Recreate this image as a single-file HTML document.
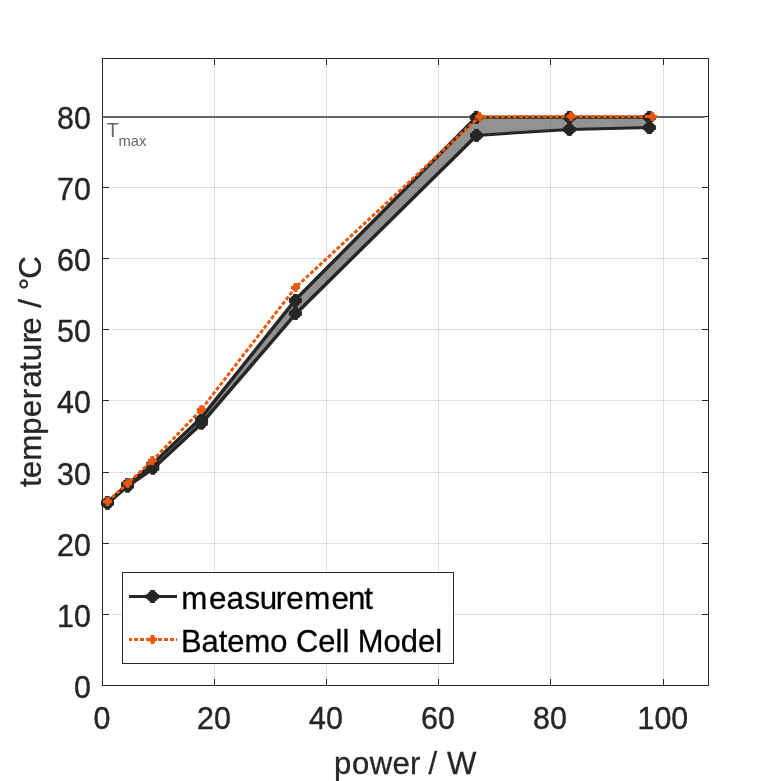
<!DOCTYPE html>
<html lang="en"><head><meta charset="utf-8"><title>temperature vs power</title>
<style>html,body{margin:0;padding:0;background:#fff;}body{width:781px;height:781px;overflow:hidden;}svg{display:block;}text{font-family:"Liberation Sans",sans-serif;}</style></head><body>
<svg width="781" height="781" viewBox="0 0 781 781">
<rect x="0" y="0" width="781" height="781" fill="#ffffff"/>
<g stroke="#262626" stroke-opacity="0.15" stroke-width="1" shape-rendering="crispEdges">
<line x1="214.5" y1="58.5" x2="214.5" y2="685.5"/>
<line x1="326.5" y1="58.5" x2="326.5" y2="685.5"/>
<line x1="438.5" y1="58.5" x2="438.5" y2="685.5"/>
<line x1="550.5" y1="58.5" x2="550.5" y2="685.5"/>
<line x1="663.5" y1="58.5" x2="663.5" y2="685.5"/>
<line x1="102.5" y1="614.5" x2="708.5" y2="614.5"/>
<line x1="102.5" y1="543.5" x2="708.5" y2="543.5"/>
<line x1="102.5" y1="472.5" x2="708.5" y2="472.5"/>
<line x1="102.5" y1="400.5" x2="708.5" y2="400.5"/>
<line x1="102.5" y1="329.5" x2="708.5" y2="329.5"/>
<line x1="102.5" y1="258.5" x2="708.5" y2="258.5"/>
<line x1="102.5" y1="187.5" x2="708.5" y2="187.5"/>
<line x1="102.5" y1="116.5" x2="708.5" y2="116.5"/>
</g>
<g stroke="#262626" stroke-width="1" fill="none" shape-rendering="crispEdges">
<rect x="102.5" y="58.5" width="606.0" height="627.0"/>
<line x1="102.5" y1="685.5" x2="102.5" y2="679.0"/><line x1="102.5" y1="58.5" x2="102.5" y2="65.0"/>
<line x1="214.5" y1="685.5" x2="214.5" y2="679.0"/><line x1="214.5" y1="58.5" x2="214.5" y2="65.0"/>
<line x1="326.5" y1="685.5" x2="326.5" y2="679.0"/><line x1="326.5" y1="58.5" x2="326.5" y2="65.0"/>
<line x1="438.5" y1="685.5" x2="438.5" y2="679.0"/><line x1="438.5" y1="58.5" x2="438.5" y2="65.0"/>
<line x1="550.5" y1="685.5" x2="550.5" y2="679.0"/><line x1="550.5" y1="58.5" x2="550.5" y2="65.0"/>
<line x1="663.5" y1="685.5" x2="663.5" y2="679.0"/><line x1="663.5" y1="58.5" x2="663.5" y2="65.0"/>
<line x1="102.5" y1="685.5" x2="109.0" y2="685.5"/><line x1="708.5" y1="685.5" x2="702.0" y2="685.5"/>
<line x1="102.5" y1="614.5" x2="109.0" y2="614.5"/><line x1="708.5" y1="614.5" x2="702.0" y2="614.5"/>
<line x1="102.5" y1="543.5" x2="109.0" y2="543.5"/><line x1="708.5" y1="543.5" x2="702.0" y2="543.5"/>
<line x1="102.5" y1="472.5" x2="109.0" y2="472.5"/><line x1="708.5" y1="472.5" x2="702.0" y2="472.5"/>
<line x1="102.5" y1="400.5" x2="109.0" y2="400.5"/><line x1="708.5" y1="400.5" x2="702.0" y2="400.5"/>
<line x1="102.5" y1="329.5" x2="109.0" y2="329.5"/><line x1="708.5" y1="329.5" x2="702.0" y2="329.5"/>
<line x1="102.5" y1="258.5" x2="109.0" y2="258.5"/><line x1="708.5" y1="258.5" x2="702.0" y2="258.5"/>
<line x1="102.5" y1="187.5" x2="109.0" y2="187.5"/><line x1="708.5" y1="187.5" x2="702.0" y2="187.5"/>
<line x1="102.5" y1="116.5" x2="109.0" y2="116.5"/><line x1="708.5" y1="116.5" x2="702.0" y2="116.5"/>
</g>
<line x1="102.5" y1="116.9" x2="704.8" y2="116.9" stroke="#666666" stroke-width="2"/>
<text x="106.7" y="136.7" font-size="19.7" fill="#666666">T<tspan dx="-0.3" dy="9" font-size="14.8">max</tspan></text>
<polygon points="107.5,502.6 127.5,484.6 152.8,463.8 201.6,417.4 295.4,299.8 476.3,117.3 569.4,117.3 649.4,117.3 649.4,127.6 569.4,129.4 476.5,135.4 295.4,314.2 201.4,423.6 152.8,468.8 127.5,486.2 107.5,503.3" fill="#262626" fill-opacity="0.5"/>
<polyline points="107.5,502.6 127.5,484.6 152.8,463.8 201.6,417.4 295.4,299.8 476.3,117.3" fill="none" stroke="#262626" stroke-width="3.5" stroke-linejoin="round"/>
<polyline points="476.3,117.3 569.4,117.3 649.4,117.3" fill="none" stroke="#262626" stroke-width="3" stroke-linejoin="round"/>
<g fill="#262626"><circle cx="107.5" cy="502.6" r="5.7"/><rect x="105.2" y="496.1" width="4.6" height="13"/><rect x="101.0" y="500.3" width="13" height="4.6"/><circle cx="127.5" cy="484.6" r="5.7"/><rect x="125.2" y="478.1" width="4.6" height="13"/><rect x="121.0" y="482.3" width="13" height="4.6"/><circle cx="152.8" cy="464.2" r="5.7"/><rect x="150.5" y="457.7" width="4.6" height="13"/><rect x="146.3" y="461.9" width="13" height="4.6"/><circle cx="201.6" cy="419.6" r="5.7"/><rect x="199.29999999999998" y="413.1" width="4.6" height="13"/><rect x="195.1" y="417.3" width="13" height="4.6"/><circle cx="295.4" cy="300.5" r="5.7"/><rect x="293.09999999999997" y="294.0" width="4.6" height="13"/><rect x="288.9" y="298.2" width="13" height="4.6"/><circle cx="476.3" cy="117.4" r="5.7"/><rect x="474.0" y="110.9" width="4.6" height="13"/><rect x="469.8" y="115.10000000000001" width="13" height="4.6"/><circle cx="569.4" cy="117.4" r="5.7"/><rect x="567.1" y="110.9" width="4.6" height="13"/><rect x="562.9" y="115.10000000000001" width="13" height="4.6"/><circle cx="649.4" cy="117.4" r="5.7"/><rect x="647.1" y="110.9" width="4.6" height="13"/><rect x="642.9" y="115.10000000000001" width="13" height="4.6"/></g>
<polyline points="107.5,503.3 127.5,486.2 152.8,468.8 201.4,423.6 295.4,314.2 476.5,135.4" fill="none" stroke="#262626" stroke-width="3.5" stroke-linejoin="round"/>
<polyline points="476.5,135.4 569.4,129.4 649.4,127.6" fill="none" stroke="#262626" stroke-width="3" stroke-linejoin="round"/>
<g fill="#262626"><circle cx="107.5" cy="503.3" r="5.7"/><rect x="105.2" y="496.8" width="4.6" height="13"/><rect x="101.0" y="501.0" width="13" height="4.6"/><circle cx="127.5" cy="486.2" r="5.7"/><rect x="125.2" y="479.7" width="4.6" height="13"/><rect x="121.0" y="483.9" width="13" height="4.6"/><circle cx="152.8" cy="468.25" r="5.7"/><rect x="150.5" y="461.75" width="4.6" height="13"/><rect x="146.3" y="465.95" width="13" height="4.6"/><circle cx="201.4" cy="423.2" r="5.7"/><rect x="199.1" y="416.7" width="4.6" height="13"/><rect x="194.9" y="420.9" width="13" height="4.6"/><circle cx="295.4" cy="313.5" r="5.7"/><rect x="293.09999999999997" y="307.0" width="4.6" height="13"/><rect x="288.9" y="311.2" width="13" height="4.6"/><circle cx="476.5" cy="135.4" r="5.7"/><rect x="474.2" y="128.9" width="4.6" height="13"/><rect x="470.0" y="133.1" width="13" height="4.6"/><circle cx="569.4" cy="129.4" r="5.7"/><rect x="567.1" y="122.9" width="4.6" height="13"/><rect x="562.9" y="127.10000000000001" width="13" height="4.6"/><circle cx="649.4" cy="127.6" r="5.7"/><rect x="647.1" y="121.1" width="4.6" height="13"/><rect x="642.9" y="125.3" width="13" height="4.6"/></g>
<polyline points="107.5,501.5 127.6,483.4 152.4,460.6 201.2,409.7 295.5,287.5 479.5,116.7 571.0,116.5 652.5,116.6" fill="none" stroke="#e8590c" stroke-width="3" stroke-dasharray="4 2" stroke-linejoin="round"/>
<g fill="#e8590c"><circle cx="107.5" cy="501.5" r="3.2"/><rect x="105.7" y="497.0" width="3.6" height="9"/><rect x="103.0" y="499.9" width="9" height="3.2"/><circle cx="127.6" cy="483.4" r="3.2"/><rect x="125.8" y="478.9" width="3.6" height="9"/><rect x="123.1" y="481.79999999999995" width="9" height="3.2"/><circle cx="152.4" cy="460.6" r="3.2"/><rect x="150.6" y="456.1" width="3.6" height="9"/><rect x="147.9" y="459.0" width="9" height="3.2"/><circle cx="201.2" cy="409.7" r="3.2"/><rect x="199.39999999999998" y="405.2" width="3.6" height="9"/><rect x="196.7" y="408.09999999999997" width="9" height="3.2"/><circle cx="295.5" cy="287.5" r="3.2"/><rect x="293.7" y="283.0" width="3.6" height="9"/><rect x="291.0" y="285.9" width="9" height="3.2"/><circle cx="479.5" cy="116.7" r="3.2"/><rect x="477.7" y="112.2" width="3.6" height="9"/><rect x="475.0" y="115.10000000000001" width="9" height="3.2"/><circle cx="571.0" cy="116.5" r="3.2"/><rect x="569.2" y="112.0" width="3.6" height="9"/><rect x="566.5" y="114.9" width="9" height="3.2"/><circle cx="652.5" cy="116.6" r="3.2"/><rect x="650.7" y="112.1" width="3.6" height="9"/><rect x="648.0" y="115.0" width="9" height="3.2"/></g>
<g font-size="30.7" fill="#262626">
<text transform="translate(90.9,698.00) scale(0.99,1.025)" text-anchor="end" stroke="#262626" stroke-width="0.4">0</text>
<text transform="translate(90.9,627.00) scale(0.99,1.025)" text-anchor="end" stroke="#262626" stroke-width="0.4">10</text>
<text transform="translate(90.9,556.00) scale(0.99,1.025)" text-anchor="end" stroke="#262626" stroke-width="0.4">20</text>
<text transform="translate(90.9,485.00) scale(0.99,1.025)" text-anchor="end" stroke="#262626" stroke-width="0.4">30</text>
<text transform="translate(90.9,413.00) scale(0.99,1.025)" text-anchor="end" stroke="#262626" stroke-width="0.4">40</text>
<text transform="translate(90.9,342.00) scale(0.99,1.025)" text-anchor="end" stroke="#262626" stroke-width="0.4">50</text>
<text transform="translate(90.9,271.00) scale(0.99,1.025)" text-anchor="end" stroke="#262626" stroke-width="0.4">60</text>
<text transform="translate(90.9,200.00) scale(0.99,1.025)" text-anchor="end" stroke="#262626" stroke-width="0.4">70</text>
<text transform="translate(90.9,129.00) scale(0.99,1.025)" text-anchor="end" stroke="#262626" stroke-width="0.4">80</text>
<text transform="translate(101.9,729.45) scale(0.99,1.025)" text-anchor="middle" stroke="#262626" stroke-width="0.4">0</text>
<text transform="translate(213.9,729.45) scale(0.99,1.025)" text-anchor="middle" stroke="#262626" stroke-width="0.4">20</text>
<text transform="translate(325.9,729.45) scale(0.99,1.025)" text-anchor="middle" stroke="#262626" stroke-width="0.4">40</text>
<text transform="translate(437.9,729.45) scale(0.99,1.025)" text-anchor="middle" stroke="#262626" stroke-width="0.4">60</text>
<text transform="translate(549.9,729.45) scale(0.99,1.025)" text-anchor="middle" stroke="#262626" stroke-width="0.4">80</text>
<text transform="translate(662.9,729.45) scale(0.99,1.025)" text-anchor="middle" stroke="#262626" stroke-width="0.4">100</text>
<text transform="translate(0,773.6) scale(1.0146,1)" stroke="#262626" stroke-width="0.3" x="329.24 346.88 364.32 386.75 404.01 413.92 422.23 431.34 440.66">power / W</text>
<text transform="translate(41,371.7) rotate(-90) scale(1.022,1)" stroke="#262626" stroke-width="0.3" x="-112.72 -104.21 -87.14 -61.59 -44.51 -26.96 -15.76 0.80 10.31 27.77 36.22 53.69 62.50 71.22 79.66 90.94">temperature / °C</text>
</g>
<rect x="122.5" y="572.5" width="331" height="91" fill="#ffffff" stroke="#262626" stroke-width="1" shape-rendering="crispEdges"/>
<line x1="129" y1="596.5" x2="177" y2="596.5" stroke="#262626" stroke-width="3"/>
<g fill="#262626"><circle cx="152.5" cy="596.5" r="5.7"/><rect x="150.2" y="590.0" width="4.6" height="13"/><rect x="146.0" y="594.2" width="13" height="4.6"/></g>
<line x1="129" y1="639.5" x2="177" y2="639.5" stroke="#e8590c" stroke-width="3" stroke-dasharray="4 2" stroke-dashoffset="1"/>
<g fill="#e8590c"><circle cx="152.5" cy="639.5" r="3.2"/><rect x="150.7" y="635.0" width="3.6" height="9"/><rect x="148.0" y="637.9" width="9" height="3.2"/></g>
<g font-size="30.7" fill="#000000" stroke="#000000" stroke-width="0.3">
<text transform="translate(0,609.4) scale(1.0203,1)" x="177.59 204.73 222.00 239.66 254.61 270.21 280.54 298.11 324.86 341.13 356.93">measurement</text>
<text x="181.0" y="652.3" textLength="261" lengthAdjust="spacingAndGlyphs">Batemo Cell Model</text>
</g>
</svg></body></html>
